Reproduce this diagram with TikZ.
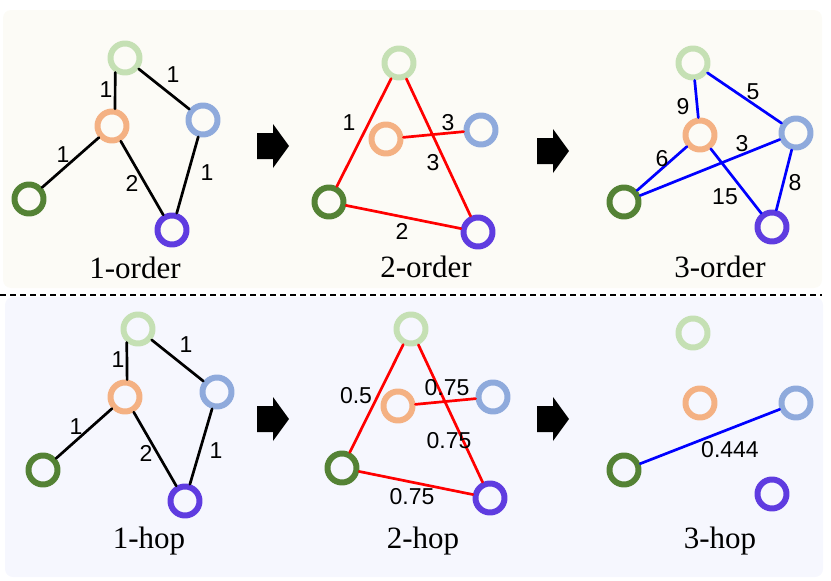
\documentclass[tikz,border=0pt]{standalone}
\usepackage{fontspec}
\setmainfont{Liberation Serif}
\newfontfamily\wfont{Liberation Sans}
\definecolor{lgreen}{HTML}{C5E0B4}
\definecolor{orng}{HTML}{F4B183}
\definecolor{lblue}{HTML}{8FAADC}
\definecolor{dgreen}{HTML}{548235}
\definecolor{purp}{HTML}{5F3CE0}
\definecolor{topbg}{HTML}{FCFBF6}
\definecolor{botbg}{HTML}{F6F7FE}

\begin{document}
\begin{tikzpicture}[x=1pt, y=-1pt, line join=round, line cap=round,
	vtx/.style={circle, draw, line width=6pt, minimum size=29pt, inner sep=0pt},
	blk/.style={line width=2.7pt, black},
	redge/.style={line width=2.7pt, red},
	bedge/.style={line width=2.7pt, blue},
	wlab/.style={font=\wfont\fontsize{23}{23}\selectfont, inner sep=0pt},
	ttl/.style={font=\fontsize{31}{31}\selectfont, inner sep=0pt, anchor=base}]
	\useasboundingbox (0,0) rectangle (831,581);
	% panels
	\fill[topbg, rounded corners=8pt] (3,10) rectangle (822,288);
	\fill[botbg, rounded corners=8pt] (5,297) rectangle (823,577);
	\draw[line width=1.6pt, dash pattern=on 6pt off 4pt, line cap=butt] (0,295) -- (822,295);
	% 1-order
	\node[vtx, draw=lgreen] (AL) at (125,58) {};
	\node[vtx, draw=orng] (AO) at (112,126) {};
	\node[vtx, draw=lblue] (AU) at (203,120) {};
	\node[vtx, draw=dgreen] (AG) at (29,199) {};
	\node[vtx, draw=purp] (AP) at (172,230) {};
	\draw[blk] (AL.236) -- (AO.80) (AL) -- (AU) (AO) -- (AG) (AO) -- (AP) (AU) -- (AP);
	\node[wlab] at (106,90) {1};
	\node[wlab] at (173,75) {1};
	\node[wlab] at (63,155) {1};
	\node[wlab] at (132,183) {2};
	\node[wlab] at (207,173) {1};
	\node[ttl] (At) at (135,278) {1-order};
	% 2-order
	\node[vtx, draw=lgreen] (BL) at (399,63) {};
	\node[vtx, draw=orng] (BO) at (386,139) {};
	\node[vtx, draw=lblue] (BU) at (481,130) {};
	\node[vtx, draw=dgreen] (BG) at (329,202) {};
	\node[vtx, draw=purp] (BP) at (478,232) {};
	\draw[redge] (BL) -- (BG) (BL) -- (BP) (BO) -- (BU) (BG) -- (BP);
	\node[wlab] at (349,123) {1};
	\node[wlab] at (448,123) {3};
	\node[wlab] at (433,163) {3};
	\node[wlab] at (402,231) {2};
	\node[ttl] (Bt) at (426,277) {2-order};
	% 3-order
	\node[vtx, draw=lgreen] (CL) at (693,63) {};
	\node[vtx, draw=orng] (CO) at (700,135) {};
	\node[vtx, draw=lblue] (CU) at (796,133) {};
	\node[vtx, draw=dgreen] (CG) at (624,202) {};
	\node[vtx, draw=purp] (CP) at (772,227) {};
	\draw[bedge] (CL) -- (CO) (CL) -- (CU) (CO) -- (CG) (CU) -- (CG) (CO) -- (CP) (CU) -- (CP);
	\node[wlab] at (683,107) {9};
	\node[wlab] at (753,92) {5};
	\node[wlab] at (662,159) {6};
	\node[wlab] at (742,144) {3};
	\node[wlab] at (725,197) {15};
	\node[wlab] at (795,183) {8};
	\node[ttl] (Ct) at (720,277) {3-order};
	% 1-hop
	\node[vtx, draw=lgreen] (DL) at (138,329) {};
	\node[vtx, draw=orng] (DO) at (125,397) {};
	\node[vtx, draw=lblue] (DU) at (217,392) {};
	\node[vtx, draw=dgreen] (DG) at (43,470) {};
	\node[vtx, draw=purp] (DP) at (185,501) {};
	\draw[blk] (DL.230) -- (DO.83) (DL) -- (DU) (DO) -- (DG) (DO) -- (DP) (DU) -- (DP);
	\node[wlab] at (118,360) {1};
	\node[wlab] at (186,345) {1};
	\node[wlab] at (76,427) {1};
	\node[wlab] at (146,453) {2};
	\node[wlab] at (216,451) {1};
	\node[ttl] (Dt) at (149,548) {1-hop};
	% 2-hop
	\node[vtx, draw=lgreen] (EL) at (411,329) {};
	\node[vtx, draw=orng] (EO) at (398,406) {};
	\node[vtx, draw=lblue] (EU) at (493,397) {};
	\node[vtx, draw=dgreen] (EG) at (342,468) {};
	\node[vtx, draw=purp] (EP) at (490,498) {};
	\draw[redge] (EL) -- (EG) (EL) -- (EP) (EO) -- (EU) (EG) -- (EP);
	\node[wlab] at (356,396) {0.5};
	\node[wlab] at (447,388) {0.75};
	\node[wlab] at (449,441) {0.75};
	\node[wlab] at (412,497) {0.75};
	\node[ttl] (Et) at (423,548) {2-hop};
	% 3-hop
	\node[vtx, draw=lgreen] (FL) at (693,333) {};
	\node[vtx, draw=orng] (FO) at (700,403) {};
	\node[vtx, draw=lblue] (FU) at (796,403) {};
	\node[vtx, draw=dgreen] (FG) at (624,470) {};
	\node[vtx, draw=purp] (FP) at (772,494) {};
	\draw[bedge] (FG) -- (FU);
	\node[wlab] at (730,450) {0.444};
	\node[ttl] (Ft) at (720,548) {3-hop};
	% block arrows
	\foreach \ax/\ay in {257/146, 537/151, 257/419, 537/419}
		\fill[shift={(\ax,\ay)}] (0,-13) -- (16,-13) -- (16,-22) -- (32,0) -- (16,22) -- (16,13) -- (0,13) -- cycle;
\end{tikzpicture}
\end{document}
